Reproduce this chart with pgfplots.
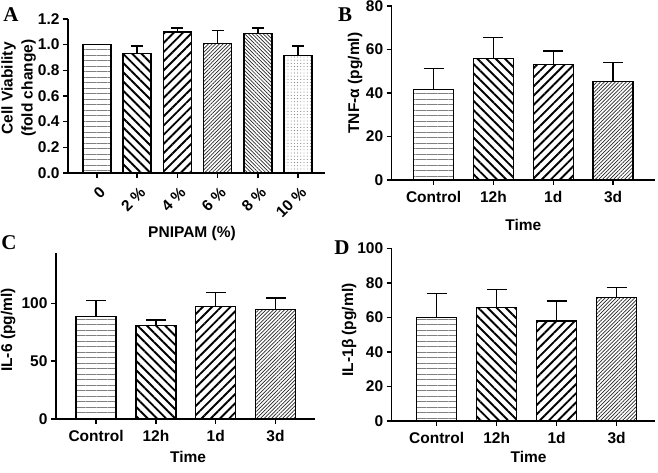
\documentclass[border=0pt]{standalone}
\usepackage{pgfplots}
\pgfplotsset{compat=1.18}
\usetikzlibrary{patterns.meta}
\usepackage{fontspec}
\setmainfont{Liberation Sans}
\newfontfamily\seriffont{Liberation Serif}
\newcommand{\lf}{\fontsize{15.5bp}{17bp}\selectfont\bfseries}
\pgfplotsset{
  common/.style={
    scale only axis,
    axis x line*=bottom, axis y line*=left,
    axis line style={line width=1.4bp,-},
    tick align=outside, major tick length=5bp,
    tick style={line width=1.4bp,black},
    ymin=0, clip=false,
    tick label style={font=\lf},
    label style={font=\lf},
    /pgf/number format/assume math mode=true,
    minor tick num=0,
  },
  mybar/.style={ybar, bar shift=0pt, draw=black, line width=1.4bp},
  eb/.style={error bars/.cd, y dir=plus, y explicit, error mark=|,
    error bar style={line width=1.4bp,black,solid},
    error mark options={line width=1.4bp,black,mark size=#1}},
  phor/.style={pattern={Lines[angle=0,distance=5.5bp,line width=0.9bp]}, pattern color=gray},
  pbk/.style={pattern={Lines[angle=-45,distance=6.5bp,line width=1.9bp]}, pattern color=black},
  pfw/.style={pattern={Lines[angle=45,distance=6.5bp,line width=1.9bp]}, pattern color=black},
  pfwt/.style={pattern={Lines[angle=45,distance=2.6bp,line width=0.7bp]}, pattern color=black!85},
  pbkt/.style={pattern={Lines[angle=-45,distance=2.6bp,line width=0.7bp]}, pattern color=black!85},
  pdot/.style={pattern={Dots[distance=3.2bp,radius=0.45bp]}, pattern color=black!70},
}
\begin{document}
\begin{tikzpicture}
\useasboundingbox (0bp,0bp) rectangle (658bp,473bp);
% Panel A
\begin{axis}[common, at={(68bp,300bp)}, anchor=south west, width=257bp, height=154bp,
  xmin=-0.72, xmax=5.67, ymax=1.2, ytick={0,0.2,...,1.2},
  yticklabel style={/pgf/number format/.cd, fixed, fixed zerofill, precision=1},
  xtick={0,1,2,3,4,5}, xticklabels={0,2 \%,4 \%,6 \%,8 \%,10 \%},
  xticklabel style={xshift=8bp, yshift=-9bp, rotate=45, anchor=east},
  ylabel={\lf\begin{tabular}{@{}c@{}}Cell Viability\\[3bp](fold change)\end{tabular}}, ylabel style={at={(axis description cs:-0.19,0.55)}, anchor=center},
  xlabel={PNIPAM (\%)}, xlabel style={at={(axis description cs:0.4825,-0.39)}, anchor=center}]
\addplot[mybar, bar width=28bp, phor] coordinates {(0,1.00)};
\addplot[mybar, bar width=28bp, pbk, eb=6bp] coordinates {(1,0.93) +- (0,0.06)};
\addplot[mybar, bar width=28bp, pfw, eb=6bp] coordinates {(2,1.10) +- (0,0.03)};
\addplot[mybar, bar width=28bp, pfwt, eb=6bp] coordinates {(3,1.01) +- (0,0.10)};
\addplot[mybar, bar width=28bp, pbkt, eb=6bp] coordinates {(4,1.085) +- (0,0.045)};
\addplot[mybar, bar width=28bp, pdot, eb=6bp] coordinates {(5,0.915) +- (0,0.075)};
\end{axis}
% Panel B
\begin{axis}[common, at={(391.7bp,293bp)}, anchor=south west, width=263.3bp, height=174bp,
  xmin=-0.70, xmax=3.70, ymax=80, ytick={0,20,40,60,80},
  xtick={0,1,2,3}, xticklabels={Control,12h,1d,3d},
  xticklabel style={yshift=-3bp},
  ylabel={TNF-α (pg/ml)}, ylabel style={at={(axis description cs:-0.139,0.557)}, anchor=center},
  xlabel={Time}, xlabel style={at={(axis description cs:0.5,-0.259)}, anchor=center}]
\addplot[mybar, bar width=40bp, phor, eb=10bp] coordinates {(0,41.7) +- (0,9.6)};
\addplot[mybar, bar width=40bp, pbk, eb=10bp] coordinates {(1,55.9) +- (0,9.5)};
\addplot[mybar, bar width=40bp, pfw, eb=10bp] coordinates {(2,53.2) +- (0,6.2)};
\addplot[mybar, bar width=40bp, pfwt, eb=10bp] coordinates {(3,45.2) +- (0,8.9)};
\end{axis}
% Panel C
\begin{axis}[common, at={(56bp,54bp)}, anchor=south west, width=259bp, height=166bp,
  xmin=-0.67, xmax=3.66, ymax=143.5, ytick={0,50,100},
  xtick={0,1,2,3}, xticklabels={Control,12h,1d,3d},
  xticklabel style={yshift=-3bp},
  ylabel={IL-6 (pg/ml)}, ylabel style={at={(axis description cs:-0.185,0.536)}, anchor=center},
  xlabel={Time}, xlabel style={at={(axis description cs:0.51,-0.229)}, anchor=center}]
\addplot[mybar, bar width=40bp, phor, eb=10bp] coordinates {(0,88.4) +- (0,14.2)};
\addplot[mybar, bar width=40bp, pbk, eb=10bp] coordinates {(1,80.6) +- (0,5.0)};
\addplot[mybar, bar width=40bp, pfw, eb=10bp] coordinates {(2,97.4) +- (0,11.8)};
\addplot[mybar, bar width=40bp, pfwt, eb=10bp] coordinates {(3,94.8) +- (0,9.7)};
\end{axis}
% Panel D
\begin{axis}[common, at={(391.7bp,52bp)}, anchor=south west, width=263.3bp, height=172.7bp,
  xmin=-0.75, xmax=3.64, ymax=100, ytick={0,20,40,60,80,100},
  xtick={0,1,2,3}, xticklabels={Control,12h,1d,3d},
  xticklabel style={yshift=-3bp},
  ylabel={IL-1β (pg/ml)}, ylabel style={at={(axis description cs:-0.162,0.527)}, anchor=center},
  xlabel={Time}, xlabel style={at={(axis description cs:0.52,-0.208)}, anchor=center}]
\addplot[mybar, bar width=40bp, phor, eb=10bp] coordinates {(0,60.0) +- (0,13.9)};
\addplot[mybar, bar width=40bp, pbk, eb=10bp] coordinates {(1,65.8) +- (0,10.4)};
\addplot[mybar, bar width=40bp, pfw, eb=10bp] coordinates {(2,57.9) +- (0,11.6)};
\addplot[mybar, bar width=40bp, pfwt, eb=10bp] coordinates {(3,71.4) +- (0,6.0)};
\end{axis}
\node[font=\seriffont\bfseries\fontsize{21bp}{22bp}\selectfont] at (11bp,458bp) {A};
\node[font=\seriffont\bfseries\fontsize{21bp}{22bp}\selectfont] at (345bp,458bp) {B};
\node[font=\seriffont\bfseries\fontsize{21bp}{22bp}\selectfont] at (9bp,230bp) {C};
\node[font=\seriffont\bfseries\fontsize{21bp}{22bp}\selectfont] at (342bp,225bp) {D};
\end{tikzpicture}
\end{document}
